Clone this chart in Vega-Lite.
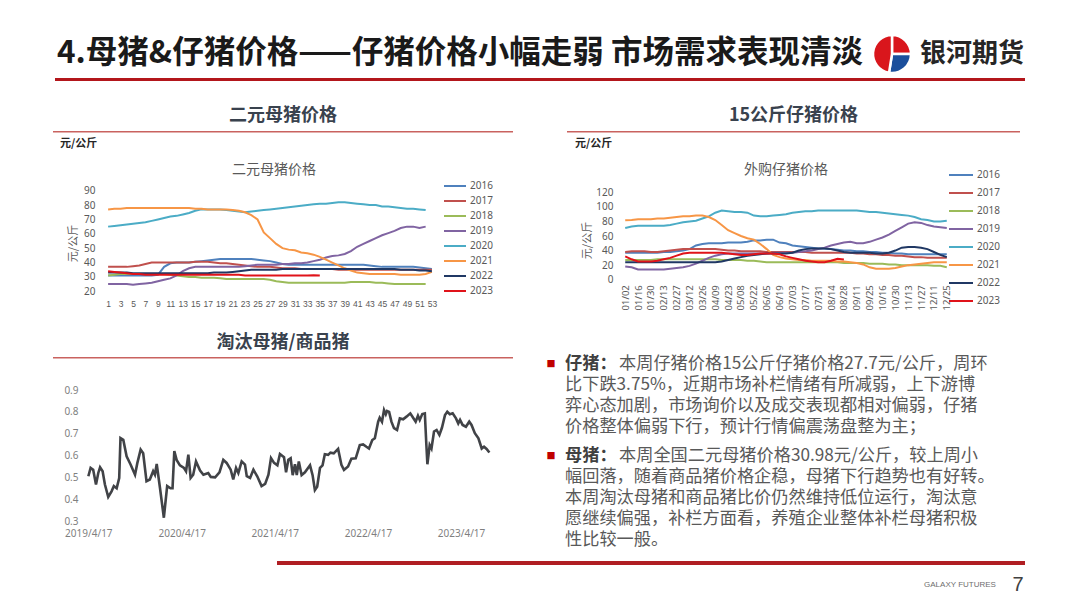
{
"$schema": "https://vega.github.io/schema/vega-lite/v6.json",
"padding": 0,
"background": "white",
"spacing": 0,
"resolve": {"scale": {"color": "independent", "strokeWidth": "independent", "x": "independent", "y": "independent"}, "legend": {"color": "independent", "strokeWidth": "independent"}},
"config": {
  "view": {"stroke": null},
  "font": "Noto Sans CJK SC",
  "concat": {"spacing": 0},
  "axis": {"domain": false, "ticks": false, "grid": false, "labelColor": "#595959", "labelFontSize": 10, "labelFont": "Noto Sans", "titleColor": "#595959", "titleFontWeight": "normal", "titleFontSize": 11, "labelOverlap": false, "labelFlush": false},
  "legend": {"labelFont": "Noto Sans", "labelColor": "#595959", "labelFontSize": 10, "padding": 0},
  "title": {"font": "Noto Sans CJK SC"}
},
"datasets": {
  "sow": [
    {"w":1,"2016":31,"2017":37,"2018":31,"2019":25,"2020":65,"2021":77,"2022":33,"2023":34},
    {"w":2,"2016":31,"2017":37,"2018":31.5,"2019":25,"2020":65.5,"2021":77.5,"2022":33,"2023":33.5},
    {"w":3,"2016":31,"2017":37,"2018":32,"2019":25,"2020":66,"2021":77.5,"2022":33,"2023":33},
    {"w":4,"2016":31,"2017":37,"2018":32,"2019":25,"2020":66.5,"2021":78,"2022":33,"2023":32.5},
    {"w":5,"2016":31,"2017":37.5,"2018":32,"2019":24.5,"2020":67,"2021":78,"2022":32.5,"2023":32},
    {"w":6,"2016":31,"2017":38,"2018":32,"2019":25,"2020":67.5,"2021":78,"2022":32.5,"2023":32},
    {"w":7,"2016":31,"2017":39,"2018":32,"2019":25.5,"2020":68,"2021":78,"2022":32.5,"2023":31.5},
    {"w":8,"2016":31,"2017":40,"2018":32,"2019":26,"2020":69,"2021":78,"2022":32.5,"2023":31.5},
    {"w":9,"2016":31.5,"2017":40,"2018":32,"2019":27,"2020":70,"2021":78,"2022":32.5,"2023":31.5},
    {"w":10,"2016":37,"2017":40,"2018":32,"2019":28,"2020":71,"2021":78,"2022":32.5,"2023":31.5},
    {"w":11,"2016":39.5,"2017":40,"2018":31.5,"2019":29,"2020":72,"2021":78,"2022":32.5,"2023":31.5},
    {"w":12,"2016":40,"2017":40,"2018":31,"2019":31,"2020":72.5,"2021":78,"2022":32.5,"2023":31.5},
    {"w":13,"2016":40,"2017":40,"2018":30.5,"2019":34,"2020":73.5,"2021":78,"2022":32.5,"2023":31.5},
    {"w":14,"2016":40,"2017":40,"2018":30,"2019":36,"2020":74.5,"2021":78,"2022":32.5,"2023":31.5},
    {"w":15,"2016":40.5,"2017":40.5,"2018":30,"2019":37,"2020":76,"2021":77.5,"2022":32.5,"2023":31.5},
    {"w":16,"2016":41,"2017":40.5,"2018":29.5,"2019":37,"2020":77,"2021":77.5,"2022":32.5,"2023":31.5},
    {"w":17,"2016":41.5,"2017":40.5,"2018":29.5,"2019":37,"2020":77,"2021":77,"2022":32.5,"2023":31.5},
    {"w":18,"2016":42,"2017":40,"2018":29.5,"2019":37,"2020":77,"2021":77,"2022":33,"2023":31.5},
    {"w":19,"2016":42.5,"2017":39.5,"2018":29,"2019":37,"2020":77,"2021":77,"2022":33,"2023":31.5},
    {"w":20,"2016":42.5,"2017":39.5,"2018":28.5,"2019":37,"2020":76.5,"2021":77,"2022":33,"2023":31.5},
    {"w":21,"2016":42.5,"2017":39,"2018":28.5,"2019":37,"2020":76,"2021":76.5,"2022":33.5,"2023":31.5},
    {"w":22,"2016":42.5,"2017":38.5,"2018":28.5,"2019":37,"2020":75.5,"2021":76,"2022":34,"2023":31.5},
    {"w":23,"2016":42.5,"2017":38,"2018":28.5,"2019":37.5,"2020":75,"2021":75,"2022":34.5,"2023":31},
    {"w":24,"2016":42.5,"2017":37.5,"2018":28.5,"2019":38,"2020":75.5,"2021":73,"2022":35,"2023":31},
    {"w":25,"2016":42,"2017":37,"2018":28.5,"2019":38.5,"2020":76,"2021":70,"2022":35,"2023":31},
    {"w":26,"2016":41.5,"2017":37,"2018":28.5,"2019":38.5,"2020":76.5,"2021":61,"2022":35,"2023":31},
    {"w":27,"2016":41,"2017":37,"2018":28,"2019":38.5,"2020":77,"2021":57,"2022":35,"2023":31},
    {"w":28,"2016":40,"2017":36.5,"2018":27,"2019":38.5,"2020":77.5,"2021":53,"2022":35,"2023":31},
    {"w":29,"2016":39,"2017":36,"2018":26.5,"2019":39,"2020":78,"2021":50,"2022":35.5,"2023":31},
    {"w":30,"2016":38.5,"2017":36,"2018":26,"2019":39,"2020":78.5,"2021":49,"2022":35.5,"2023":31},
    {"w":31,"2016":38.5,"2017":36,"2018":26,"2019":39.5,"2020":79,"2021":48.5,"2022":35.5,"2023":31},
    {"w":32,"2016":38.5,"2017":35.5,"2018":26,"2019":39.5,"2020":79.5,"2021":47,"2022":35.5,"2023":31},
    {"w":33,"2016":38.5,"2017":35.5,"2018":26,"2019":40,"2020":80,"2021":46.5,"2022":35.5,"2023":31},
    {"w":34,"2016":38.5,"2017":35.5,"2018":26,"2019":41,"2020":80.5,"2021":45.5,"2022":35.5,"2023":31.2},
    {"w":35,"2016":38.5,"2017":35.5,"2018":26,"2019":42,"2020":81,"2021":44,"2022":35.5,"2023":30.98},
    {"w":36,"2016":38.5,"2017":35.5,"2018":26,"2019":43.5,"2020":81,"2021":42,"2022":35.5},
    {"w":37,"2016":38.5,"2017":35.5,"2018":26,"2019":44.5,"2020":81.5,"2021":40,"2022":35.5},
    {"w":38,"2016":38.5,"2017":35,"2018":26,"2019":45,"2020":82,"2021":38,"2022":35.5},
    {"w":39,"2016":38.5,"2017":35,"2018":26,"2019":46,"2020":82,"2021":36,"2022":35.5},
    {"w":40,"2016":38.5,"2017":35,"2018":26.5,"2019":48,"2020":81.5,"2021":34.5,"2022":35.5},
    {"w":41,"2016":38.5,"2017":35,"2018":26.5,"2019":51,"2020":81,"2021":33,"2022":35.5},
    {"w":42,"2016":38.5,"2017":35,"2018":26.5,"2019":53,"2020":80.5,"2021":32.5,"2022":35.5},
    {"w":43,"2016":38,"2017":35,"2018":26.5,"2019":55,"2020":80,"2021":32,"2022":35.5},
    {"w":44,"2016":37.5,"2017":35,"2018":26,"2019":57,"2020":80,"2021":32,"2022":35.5},
    {"w":45,"2016":37,"2017":35,"2018":26,"2019":59,"2020":79,"2021":32,"2022":35.5},
    {"w":46,"2016":37,"2017":35,"2018":25.5,"2019":60.5,"2020":79,"2021":32,"2022":35.5},
    {"w":47,"2016":37,"2017":35,"2018":25,"2019":62,"2020":78.5,"2021":32,"2022":35.5},
    {"w":48,"2016":37,"2017":35,"2018":25,"2019":64,"2020":78,"2021":31.5,"2022":35},
    {"w":49,"2016":37,"2017":35,"2018":25,"2019":65,"2020":77.5,"2021":31.5,"2022":35},
    {"w":50,"2016":37,"2017":35,"2018":25,"2019":65,"2020":77.5,"2021":31.5,"2022":35},
    {"w":51,"2016":36.5,"2017":35,"2018":25,"2019":64,"2020":77,"2021":31.5,"2022":34.5},
    {"w":52,"2016":36,"2017":35,"2018":25,"2019":65,"2020":76.5,"2021":32,"2022":34.5},
    {"w":53,"2016":35.5,"2017":35,"2021":33.5,"2022":34}
  ],
  "piglet": [
    {"d":"01/02","2016":37,"2017":38,"2018":27,"2019":18,"2020":71,"2021":81.5,"2022":24,"2023":32},
    {"d":"01/09","2016":37,"2017":39,"2018":27,"2019":17,"2020":73,"2021":82,"2022":24,"2023":28},
    {"d":"01/16","2016":37,"2017":39,"2018":27,"2019":14,"2020":74,"2021":83,"2022":24,"2023":25},
    {"d":"01/23","2016":37,"2017":39,"2018":27,"2019":14,"2020":74,"2021":83,"2022":24,"2023":25},
    {"d":"01/30","2016":37,"2017":38,"2018":27,"2019":14,"2020":74,"2021":83,"2022":24,"2023":25},
    {"d":"02/06","2016":37,"2017":38,"2018":28,"2019":14,"2020":74,"2021":84,"2022":24,"2023":26},
    {"d":"02/13","2016":38,"2017":39,"2018":28,"2019":14,"2020":74,"2021":84,"2022":24,"2023":28},
    {"d":"02/20","2016":38,"2017":40,"2018":28,"2019":15,"2020":75,"2021":85,"2022":24,"2023":30},
    {"d":"02/27","2016":39,"2017":41,"2018":28,"2019":16,"2020":77,"2021":86,"2022":24,"2023":33},
    {"d":"03/05","2016":40,"2017":42,"2018":28,"2019":17,"2020":79,"2021":87,"2022":24,"2023":36},
    {"d":"03/12","2016":42,"2017":42,"2018":28,"2019":19,"2020":80,"2021":87,"2022":24,"2023":37},
    {"d":"03/19","2016":47,"2017":42,"2018":28,"2019":22,"2020":81,"2021":88,"2022":24,"2023":37},
    {"d":"03/26","2016":49,"2017":42,"2018":28,"2019":26,"2020":84,"2021":88,"2022":24,"2023":37},
    {"d":"04/02","2016":50,"2017":42,"2018":28,"2019":30,"2020":87,"2021":86,"2022":24,"2023":37},
    {"d":"04/09","2016":50,"2017":42,"2018":28,"2019":33,"2020":92,"2021":82,"2022":24,"2023":37},
    {"d":"04/16","2016":50,"2017":41,"2018":27,"2019":35,"2020":95,"2021":75,"2022":25,"2023":37},
    {"d":"04/23","2016":51,"2017":40,"2018":27,"2019":36,"2020":94,"2021":68,"2022":27,"2023":36},
    {"d":"04/30","2016":51,"2017":40,"2018":27,"2019":36,"2020":93,"2021":64,"2022":29,"2023":35},
    {"d":"05/08","2016":51,"2017":39,"2018":27,"2019":36,"2020":93,"2021":60,"2022":31,"2023":34},
    {"d":"05/15","2016":52,"2017":39,"2018":26,"2019":36,"2020":92,"2021":57,"2022":33,"2023":34},
    {"d":"05/22","2016":54,"2017":39,"2018":26,"2019":36,"2020":88,"2021":55,"2022":34,"2023":35},
    {"d":"05/29","2016":54,"2017":39,"2018":25,"2019":36,"2020":87,"2021":49,"2022":35,"2023":36},
    {"d":"06/05","2016":55,"2017":38,"2018":24,"2019":36,"2020":87,"2021":42,"2022":36,"2023":36},
    {"d":"06/12","2016":55,"2017":38,"2018":24,"2019":37,"2020":88,"2021":34,"2022":36,"2023":36},
    {"d":"06/19","2016":51,"2017":38,"2018":24,"2019":37,"2020":89,"2021":31,"2022":36,"2023":35},
    {"d":"06/26","2016":50,"2017":38,"2018":24,"2019":37,"2020":90,"2021":29,"2022":36,"2023":32},
    {"d":"07/03","2016":47,"2017":38,"2018":24,"2019":37,"2020":92,"2021":28,"2022":37,"2023":30},
    {"d":"07/10","2016":46,"2017":38,"2018":24,"2019":38,"2020":93,"2021":27,"2022":40,"2023":28},
    {"d":"07/17","2016":45,"2017":38,"2018":24,"2019":39,"2020":94,"2021":27,"2022":42,"2023":26},
    {"d":"07/24","2016":44,"2017":37,"2018":24,"2019":40,"2020":94,"2021":26,"2022":43,"2023":25},
    {"d":"07/31","2016":43,"2017":37,"2018":24,"2019":42,"2020":95,"2021":26,"2022":43,"2023":24},
    {"d":"08/07","2016":43,"2017":37,"2018":24,"2019":44,"2020":95,"2021":26,"2022":43,"2023":24},
    {"d":"08/14","2016":42,"2017":37,"2018":24,"2019":47,"2020":95,"2021":26,"2022":42,"2023":26},
    {"d":"08/21","2016":41,"2017":37,"2018":24,"2019":49,"2020":95,"2021":25,"2022":40,"2023":28.8},
    {"d":"08/28","2016":40,"2017":37,"2018":23,"2019":51,"2020":95,"2021":25,"2022":38,"2023":27.7},
    {"d":"09/04","2016":40,"2017":37,"2018":23,"2019":52,"2020":95,"2021":24,"2022":37},
    {"d":"09/11","2016":39,"2017":36,"2018":23,"2019":50,"2020":95,"2021":23,"2022":37},
    {"d":"09/18","2016":39,"2017":36,"2018":23,"2019":50,"2020":94,"2021":21,"2022":37},
    {"d":"09/25","2016":38,"2017":35,"2018":22,"2019":52,"2020":93,"2021":17,"2022":37},
    {"d":"10/09","2016":38,"2017":35,"2018":22,"2019":55,"2020":93,"2021":15,"2022":36},
    {"d":"10/16","2016":37,"2017":34,"2018":22,"2019":58,"2020":92,"2021":15,"2022":36},
    {"d":"10/23","2016":37,"2017":34,"2018":21,"2019":62,"2020":91,"2021":15,"2022":37},
    {"d":"10/30","2016":36,"2017":33,"2018":21,"2019":67,"2020":90,"2021":16,"2022":40},
    {"d":"11/06","2016":36,"2017":33,"2018":20,"2019":72,"2020":89,"2021":18,"2022":44},
    {"d":"11/13","2016":35,"2017":32,"2018":20,"2019":77,"2020":88,"2021":20,"2022":45},
    {"d":"11/20","2016":35,"2017":31,"2018":20,"2019":79,"2020":86,"2021":21,"2022":45},
    {"d":"11/27","2016":35,"2017":31,"2018":20,"2019":78,"2020":83,"2021":22,"2022":44},
    {"d":"12/04","2016":35,"2017":30,"2018":20,"2019":75,"2020":82,"2021":23,"2022":42},
    {"d":"12/11","2016":35,"2017":30,"2018":19,"2019":73,"2020":80,"2021":24,"2022":38},
    {"d":"12/18","2016":35,"2017":30,"2018":19,"2019":72,"2020":80,"2021":24,"2022":34},
    {"d":"12/25","2016":35,"2017":30,"2018":17,"2019":71,"2020":81,"2021":24,"2022":31}
  ],
  "ratio": [
    {"date":"2019-04-17","r":0.505},{"date":"2019-04-26","r":0.543},{"date":"2019-05-06","r":0.535},{"date":"2019-05-17","r":0.467},
    {"date":"2019-05-26","r":0.52},{"date":"2019-06-02","r":0.546},{"date":"2019-06-12","r":0.528},{"date":"2019-06-21","r":0.467},
    {"date":"2019-07-04","r":0.41},{"date":"2019-07-17","r":0.436},{"date":"2019-07-26","r":0.46},{"date":"2019-08-06","r":0.45},
    {"date":"2019-08-16","r":0.497},{"date":"2019-08-21","r":0.68},{"date":"2019-09-01","r":0.672},{"date":"2019-09-14","r":0.596},
    {"date":"2019-09-30","r":0.558},{"date":"2019-10-17","r":0.512},{"date":"2019-10-26","r":0.565},{"date":"2019-11-08","r":0.627},
    {"date":"2019-11-18","r":0.61},{"date":"2019-12-01","r":0.482},{"date":"2019-12-14","r":0.49},{"date":"2019-12-27","r":0.528},
    {"date":"2020-01-03","r":0.512},{"date":"2020-01-10","r":0.561},{"date":"2020-01-23","r":0.45},{"date":"2020-02-07","r":0.315},
    {"date":"2020-02-20","r":0.46},{"date":"2020-03-04","r":0.45},{"date":"2020-03-12","r":0.45},{"date":"2020-03-19","r":0.62},
    {"date":"2020-03-28","r":0.58},{"date":"2020-04-10","r":0.555},{"date":"2020-04-26","r":0.543},{"date":"2020-05-04","r":0.528},
    {"date":"2020-05-13","r":0.604},{"date":"2020-05-22","r":0.497},{"date":"2020-06-01","r":0.512},{"date":"2020-06-12","r":0.573},
    {"date":"2020-06-28","r":0.531},{"date":"2020-07-11","r":0.512},{"date":"2020-07-30","r":0.52},{"date":"2020-08-09","r":0.502},
    {"date":"2020-08-26","r":0.5},{"date":"2020-09-12","r":0.523},{"date":"2020-09-27","r":0.58},{"date":"2020-10-10","r":0.566},
    {"date":"2020-10-26","r":0.535},{"date":"2020-11-05","r":0.49},{"date":"2020-11-16","r":0.543},{"date":"2020-11-25","r":0.52},
    {"date":"2020-12-08","r":0.573},{"date":"2020-12-21","r":0.558},{"date":"2020-12-28","r":0.505},{"date":"2021-01-10","r":0.497},
    {"date":"2021-01-23","r":0.535},{"date":"2021-02-07","r":0.505},{"date":"2021-02-24","r":0.46},{"date":"2021-03-10","r":0.47},
    {"date":"2021-03-23","r":0.512},{"date":"2021-04-02","r":0.588},{"date":"2021-04-14","r":0.566},{"date":"2021-04-27","r":0.555},
    {"date":"2021-05-07","r":0.607},{"date":"2021-05-23","r":0.592},{"date":"2021-05-31","r":0.523},{"date":"2021-06-09","r":0.58},
    {"date":"2021-06-18","r":0.587},{"date":"2021-06-26","r":0.51},{"date":"2021-07-05","r":0.56},{"date":"2021-07-12","r":0.51},
    {"date":"2021-07-20","r":0.573},{"date":"2021-07-31","r":0.51},{"date":"2021-08-13","r":0.523},{"date":"2021-09-02","r":0.555},
    {"date":"2021-09-12","r":0.51},{"date":"2021-09-21","r":0.442},{"date":"2021-09-30","r":0.457},{"date":"2021-10-11","r":0.543},
    {"date":"2021-10-21","r":0.555},{"date":"2021-10-30","r":0.606},{"date":"2021-11-12","r":0.603},{"date":"2021-11-21","r":0.613},
    {"date":"2021-12-04","r":0.61},{"date":"2021-12-21","r":0.63},{"date":"2022-01-03","r":0.557},{"date":"2022-01-13","r":0.534},
    {"date":"2022-01-29","r":0.55},{"date":"2022-02-11","r":0.585},{"date":"2022-02-28","r":0.587},{"date":"2022-03-16","r":0.648},
    {"date":"2022-03-29","r":0.651},{"date":"2022-04-11","r":0.64},{"date":"2022-04-21","r":0.632},{"date":"2022-05-04","r":0.671},
    {"date":"2022-05-14","r":0.679},{"date":"2022-05-27","r":0.755},{"date":"2022-06-02","r":0.773},{"date":"2022-06-11","r":0.755},
    {"date":"2022-06-19","r":0.808},{"date":"2022-06-26","r":0.789},{"date":"2022-07-01","r":0.804},{"date":"2022-07-09","r":0.8},
    {"date":"2022-07-18","r":0.755},{"date":"2022-07-28","r":0.725},{"date":"2022-08-09","r":0.717},{"date":"2022-08-20","r":0.77},
    {"date":"2022-09-02","r":0.766},{"date":"2022-09-15","r":0.778},{"date":"2022-09-30","r":0.793},{"date":"2022-10-11","r":0.773},
    {"date":"2022-10-21","r":0.755},{"date":"2022-10-30","r":0.782},{"date":"2022-11-06","r":0.763},{"date":"2022-11-16","r":0.79},
    {"date":"2022-11-26","r":0.793},{"date":"2022-12-02","r":0.648},{"date":"2022-12-06","r":0.56},{"date":"2022-12-15","r":0.648},
    {"date":"2022-12-22","r":0.632},{"date":"2023-01-01","r":0.71},{"date":"2023-01-11","r":0.717},{"date":"2023-01-22","r":0.694},
    {"date":"2023-02-01","r":0.727},{"date":"2023-02-13","r":0.785},{"date":"2023-02-22","r":0.8},{"date":"2023-03-04","r":0.789},
    {"date":"2023-03-15","r":0.793},{"date":"2023-03-28","r":0.77},{"date":"2023-04-06","r":0.747},{"date":"2023-04-13","r":0.763},
    {"date":"2023-04-23","r":0.74},{"date":"2023-05-06","r":0.732},{"date":"2023-05-19","r":0.755},{"date":"2023-05-28","r":0.74},
    {"date":"2023-06-10","r":0.702},{"date":"2023-06-24","r":0.679},{"date":"2023-07-07","r":0.632},{"date":"2023-07-16","r":0.64},
    {"date":"2023-07-26","r":0.63},{"date":"2023-08-06","r":0.614}
  ],
  "notes": [
    {"para":1,"line":1,"lead":"仔猪：","body":"本周仔猪价格15公斤仔猪价格27.7元/公斤，周环"},
    {"para":1,"line":2,"lead":"","body":"比下跌3.75%，近期市场补栏情绪有所减弱，上下游博"},
    {"para":1,"line":3,"lead":"","body":"弈心态加剧，市场询价以及成交表现都相对偏弱，仔猪"},
    {"para":1,"line":4,"lead":"","body":"价格整体偏弱下行，预计行情偏震荡盘整为主；"},
    {"para":2,"line":5,"lead":"母猪：","body":"本周全国二元母猪价格30.98元/公斤，较上周小"},
    {"para":2,"line":6,"lead":"","body":"幅回落，随着商品猪价格企稳，母猪下行趋势也有好转。"},
    {"para":2,"line":7,"lead":"","body":"本周淘汰母猪和商品猪比价仍然维持低位运行，淘汰意"},
    {"para":2,"line":8,"lead":"","body":"愿继续偏强，补栏方面看，养殖企业整体补栏母猪积极"},
    {"para":2,"line":9,"lead":"","body":"性比较一般。"}
  ]
},
"vconcat": [
  {"width": 1080, "height": 30, "data": {"values": []}, "mark": "point"},
  {"hconcat": [
    {"width": 57, "height": 40, "data": {"values": []}, "mark": "point"},
    {"width": 815, "height": 40, "data": {"values": [{"t": "4.母猪&仔猪价格——仔猪价格小幅走弱 市场需求表现清淡"}]},
     "mark": {"type": "text", "align": "left", "fontSize": 31.5, "fontWeight": "bold", "color": "#1A1A1A"},
     "encoding": {"text": {"field": "t"}, "x": {"datum": 0, "type": "quantitative", "axis": null, "scale": {"domain": [0, 1]}}}},
    {"width": 40, "height": 40, "data": {"values": [{"seg": 1, "part": "red", "share": 1}, {"seg": 2, "part": "blue", "share": 1.1}, {"seg": 3, "part": "red", "share": 1.9}]},
     "mark": {"type": "arc", "outerRadius": 19, "stroke": "white", "strokeWidth": 2.5},
     "encoding": {"theta": {"field": "share", "type": "quantitative"},
                  "order": {"field": "seg", "type": "quantitative"},
                  "color": {"condition": {"test": "datum.part == 'blue'", "value": "#1B4F9C"}, "value": "#D9161C"}}},
    {"width": 6, "height": 40, "data": {"values": []}, "mark": "point"},
    {"width": 108, "height": 40, "data": {"values": [{"name": "银河期货"}]},
     "mark": {"type": "text", "fontSize": 26, "fontWeight": "bold", "color": "#262626"},
     "encoding": {"text": {"field": "name"}}}
  ], "spacing": 0, "bounds": "flush"},
  {"hconcat": [
    {"width": 55, "height": 3, "data": {"values": []}, "mark": "point"},
    {"width": 970, "height": 3, "data": {"values": []}, "mark": "point", "view": {"fill": "#B3161B", "stroke": null}}
  ], "spacing": 0, "bounds": "flush"},
  {"width": 1, "height": 25, "data": {"values": []}, "mark": "point"},
  {"hconcat": [
    {"width": 53, "height": 1, "data": {"values": []}, "mark": "point"},
    {"vconcat": [
      {"width": 460, "height": 20, "data": {"values": [{"t": "二元母猪价格"}]},
       "mark": {"type": "text", "fontSize": 18, "fontWeight": "bold", "color": "#39424E"}, "encoding": {"text": {"field": "t"}}},
      {"width": 1, "height": 4.5, "data": {"values": []}, "mark": "point"},
      {"width": 460, "height": 1.5, "data": {"values": []}, "mark": "point", "view": {"fill": "#C9625F", "stroke": null}},
      {"width": 1, "height": 3, "data": {"values": []}, "mark": "point"},
      {"hconcat": [
        {"width": 7, "height": 16, "data": {"values": []}, "mark": "point"},
        {"width": 60, "height": 16, "data": {"values": [{"t": "元/公斤"}]},
         "mark": {"type": "text", "align": "left", "fontSize": 11, "fontWeight": "bold", "color": "#262626"},
         "encoding": {"text": {"field": "t"}, "x": {"datum": 0, "type": "quantitative", "axis": null, "scale": {"domain": [0, 1]}}}}
      ], "spacing": 0, "bounds": "flush"},
      {"width": 1, "height": 9, "data": {"values": []}, "mark": "point"},
      {"hconcat": [
        {"width": 52, "height": 172, "data": {"values": []}, "mark": "point"},
        {"width": 330, "height": 130.3, "data": {"name": "sow"},
         "transform": [{"fold": ["2016", "2017", "2018", "2019", "2020", "2021", "2022", "2023"], "as": ["year", "price"]}],
         "title": {"text": "二元母猪价格", "anchor": "middle", "fontSize": 14, "fontWeight": "normal", "color": "#595959", "offset": -16, "dx": 4},
         "mark": {"type": "line"},
         "encoding": {
           "x": {"field": "w", "type": "quantitative", "scale": {"domain": [0.5, 53.5], "nice": false, "zero": false},
                 "axis": {"values": [1,3,5,7,9,11,13,15,17,19,21,23,25,27,29,31,33,35,37,39,41,43,45,47,49,51,53], "title": null, "labelPadding": 8, "labelFont": "Liberation Sans", "labelFontSize": 8.5}},
           "y": {"field": "price", "type": "quantitative", "scale": {"domain": [20, 110.67], "nice": false, "zero": false},
                 "axis": {"values": [20,30,40,50,60,70,80,90], "title": "元/公斤", "labelPadding": 10, "titlePadding": 5, "titleY": 82}},
           "color": {"field": "year", "type": "nominal",
                     "scale": {"domain": ["2016","2017","2018","2019","2020","2021","2022","2023"], "range": ["#4F81BD","#C0504D","#9BBB59","#8064A2","#4BACC6","#F79646","#203864","#E0131A"]},
                     "legend": {"orient": "none", "legendX": 338, "legendY": 17.5, "title": null, "symbolType": "stroke", "symbolSize": 484, "symbolStrokeWidth": 3, "clipHeight": 15, "rowPadding": 0, "labelOffset": 3}},
           "strokeWidth": {"field": "year", "type": "nominal", "scale": {"domain": ["2016","2017","2018","2019","2020","2021","2022","2023"], "range": [2,2,2,2,2,2,2,3]}, "legend": null}
         }}
      ], "spacing": 0, "bounds": "flush", "resolve": {"scale": {"color": "independent", "strokeWidth": "independent", "x": "independent", "y": "independent"}, "legend": {"color": "independent", "strokeWidth": "independent"}}},
      {"width": 460, "height": 20, "data": {"values": [{"t": "淘汰母猪/商品猪"}]},
       "mark": {"type": "text", "fontSize": 18, "fontWeight": "bold", "color": "#39424E"}, "encoding": {"text": {"field": "t"}}},
      {"width": 1, "height": 3.5, "data": {"values": []}, "mark": "point"},
      {"width": 460, "height": 1.5, "data": {"values": []}, "mark": "point", "view": {"fill": "#C9625F", "stroke": null}},
      {"hconcat": [
        {"width": 31, "height": 190, "data": {"values": []}, "mark": "point"},
        {"width": 411, "height": 162, "data": {"name": "ratio"},
         "mark": {"type": "line", "color": "#414347", "strokeWidth": 2.6},
         "encoding": {
           "x": {"field": "date", "type": "temporal",
                 "scale": {"domain": [{"year": 2019, "month": 3, "date": 31}, {"year": 2023, "month": 8, "date": 28}]},
                 "axis": {"values": [{"year": 2019, "month": 4, "date": 17}, {"year": 2020, "month": 4, "date": 17}, {"year": 2021, "month": 4, "date": 17}, {"year": 2022, "month": 4, "date": 17}, {"year": 2023, "month": 4, "date": 17}],
                          "format": "%Y/%-m/%-d", "title": null, "labelPadding": 7, "labelColor": "#7F7F7F"}},
           "y": {"field": "r", "type": "quantitative", "scale": {"domain": [0.3, 1.042], "nice": false, "zero": false},
                 "axis": {"values": [0.3,0.4,0.5,0.6,0.7,0.8,0.9], "format": ".1f", "title": null, "labelPadding": 6, "labelColor": "#7F7F7F"}}
         }}
      ], "spacing": 0, "bounds": "flush"}
    ], "spacing": 0, "resolve": {"scale": {"color": "independent", "strokeWidth": "independent", "x": "independent", "y": "independent"}, "legend": {"color": "independent", "strokeWidth": "independent"}}},
    {"width": 33, "height": 1, "data": {"values": []}, "mark": "point"},
    {"vconcat": [
      {"hconcat": [
        {"width": 21, "height": 20, "data": {"values": []}, "mark": "point"},
        {"width": 453, "height": 20, "data": {"values": [{"t": "15公斤仔猪价格"}]},
         "mark": {"type": "text", "fontSize": 18, "fontWeight": "bold", "color": "#39424E"}, "encoding": {"text": {"field": "t"}}}
      ], "spacing": 0, "bounds": "flush"},
      {"width": 1, "height": 4.5, "data": {"values": []}, "mark": "point"},
      {"hconcat": [
        {"width": 21, "height": 1.5, "data": {"values": []}, "mark": "point"},
        {"width": 453, "height": 1.5, "data": {"values": []}, "mark": "point", "view": {"fill": "#C9625F", "stroke": null}}
      ], "spacing": 0, "bounds": "flush"},
      {"width": 1, "height": 3, "data": {"values": []}, "mark": "point"},
      {"hconcat": [
        {"width": 29, "height": 16, "data": {"values": []}, "mark": "point"},
        {"width": 60, "height": 16, "data": {"values": [{"t": "元/公斤"}]},
         "mark": {"type": "text", "align": "left", "fontSize": 11, "fontWeight": "bold", "color": "#262626"},
         "encoding": {"text": {"field": "t"}, "x": {"datum": 0, "type": "quantitative", "axis": null, "scale": {"domain": [0, 1]}}}}
      ], "spacing": 0, "bounds": "flush"},
      {"width": 1, "height": 9, "data": {"values": []}, "mark": "point"},
      {"hconcat": [
        {"width": 76, "height": 191.5, "data": {"values": []}, "mark": "point"},
        {"width": 328, "height": 118.7, "data": {"name": "piglet"},
         "transform": [{"fold": ["2016", "2017", "2018", "2019", "2020", "2021", "2022", "2023"], "as": ["year", "price"]}],
         "title": {"text": "外购仔猪价格", "anchor": "middle", "fontSize": 14, "fontWeight": "normal", "color": "#595959", "offset": -16},
         "mark": {"type": "line"},
         "encoding": {
           "x": {"field": "d", "type": "ordinal",
                 "scale": {"type": "point", "padding": 0.5, "domain": ["01/02","01/09","01/16","01/23","01/30","02/06","02/13","02/20","02/27","03/05","03/12","03/19","03/26","04/02","04/09","04/16","04/23","04/30","05/08","05/15","05/22","05/29","06/05","06/12","06/19","06/26","07/03","07/10","07/17","07/24","07/31","08/07","08/14","08/21","08/28","09/04","09/11","09/18","09/25","10/09","10/16","10/23","10/30","11/06","11/13","11/20","11/27","12/04","12/11","12/18","12/25"]},
                 "axis": {"values": ["01/02","01/16","01/30","02/13","02/27","03/12","03/26","04/09","04/23","05/08","05/22","06/05","06/19","07/03","07/17","07/31","08/14","08/28","09/11","09/25","10/16","10/30","11/13","11/27","12/11","12/25"], "labelAngle": -90, "labelPadding": 5, "title": null, "labelFontSize": 9.5}},
           "y": {"field": "price", "type": "quantitative", "scale": {"domain": [0, 163], "nice": false},
                 "axis": {"values": [0,20,40,60,80,100,120], "title": "元/公斤", "labelPadding": 9, "titlePadding": 3, "titleY": 79}},
           "color": {"field": "year", "type": "nominal",
                     "scale": {"domain": ["2016","2017","2018","2019","2020","2021","2022","2023"], "range": ["#4F81BD","#C0504D","#9BBB59","#8064A2","#4BACC6","#F79646","#203864","#E0131A"]},
                     "legend": {"orient": "none", "legendX": 326, "legendY": 6, "title": null, "symbolType": "stroke", "symbolSize": 576, "symbolStrokeWidth": 3, "clipHeight": 16, "rowPadding": 2, "labelOffset": 3}},
           "strokeWidth": {"field": "year", "type": "nominal", "scale": {"domain": ["2016","2017","2018","2019","2020","2021","2022","2023"], "range": [2,2,2,2,2,2,2,3]}, "legend": null}
         }}
      ], "spacing": 0, "bounds": "flush", "resolve": {"scale": {"color": "independent", "strokeWidth": "independent", "x": "independent", "y": "independent"}, "legend": {"color": "independent", "strokeWidth": "independent"}}},
      {"width": 490, "height": 84, "data": {"name": "notes"},
       "transform": [{"filter": "datum.para == 1"}],
       "encoding": {
         "y": {"field": "line", "type": "ordinal", "axis": null, "scale": {"type": "point", "padding": 0.5}},
         "x": {"datum": 0, "type": "quantitative", "axis": null, "scale": {"domain": [0, 1]}}
       },
       "layer": [
         {"transform": [{"filter": "datum.lead != ''"}], "mark": {"type": "text", "text": "■", "align": "center", "dx": 5, "fontSize": 9, "color": "#C00000"}},
         {"transform": [{"filter": "datum.lead != ''"}], "mark": {"type": "text", "align": "left", "dx": 19, "fontSize": 17.2, "fontWeight": "bold", "color": "#404040"}, "encoding": {"text": {"field": "lead"}}},
         {"transform": [{"filter": "datum.lead != ''"}], "mark": {"type": "text", "align": "left", "dx": 73, "fontSize": 17.2, "color": "#595959"}, "encoding": {"text": {"field": "body"}}},
         {"transform": [{"filter": "datum.lead == ''"}], "mark": {"type": "text", "align": "left", "dx": 19, "fontSize": 17.2, "color": "#595959"}, "encoding": {"text": {"field": "body"}}}
       ]},
      {"width": 1, "height": 8, "data": {"values": []}, "mark": "point"},
      {"width": 490, "height": 105, "data": {"name": "notes"},
       "transform": [{"filter": "datum.para == 2"}],
       "encoding": {
         "y": {"field": "line", "type": "ordinal", "axis": null, "scale": {"type": "point", "padding": 0.5}},
         "x": {"datum": 0, "type": "quantitative", "axis": null, "scale": {"domain": [0, 1]}}
       },
       "layer": [
         {"transform": [{"filter": "datum.lead != ''"}], "mark": {"type": "text", "text": "■", "align": "center", "dx": 5, "fontSize": 9, "color": "#C00000"}},
         {"transform": [{"filter": "datum.lead != ''"}], "mark": {"type": "text", "align": "left", "dx": 19, "fontSize": 17.2, "fontWeight": "bold", "color": "#404040"}, "encoding": {"text": {"field": "lead"}}},
         {"transform": [{"filter": "datum.lead != ''"}], "mark": {"type": "text", "align": "left", "dx": 73, "fontSize": 17.2, "color": "#595959"}, "encoding": {"text": {"field": "body"}}},
         {"transform": [{"filter": "datum.lead == ''"}], "mark": {"type": "text", "align": "left", "dx": 19, "fontSize": 17.2, "color": "#595959"}, "encoding": {"text": {"field": "body"}}}
       ]}
    ], "spacing": 0, "resolve": {"scale": {"color": "independent", "strokeWidth": "independent", "x": "independent", "y": "independent"}, "legend": {"color": "independent", "strokeWidth": "independent"}}}
  ], "spacing": 0, "resolve": {"scale": {"color": "independent", "strokeWidth": "independent", "x": "independent", "y": "independent"}, "legend": {"color": "independent", "strokeWidth": "independent"}}},
  {"width": 1, "height": 10.5, "data": {"values": []}, "mark": "point"},
  {"hconcat": [
    {"width": 277, "height": 4, "data": {"values": []}, "mark": "point"},
    {"width": 748, "height": 4, "data": {"values": []}, "mark": "point", "view": {"fill": "#B01E23", "stroke": null}}
  ], "spacing": 0, "bounds": "flush"},
  {"width": 1, "height": 10, "data": {"values": []}, "mark": "point"},
  {"hconcat": [
    {"width": 910, "height": 20, "data": {"values": []}, "mark": "point"},
    {"width": 100, "height": 20, "data": {"values": [{"t": "GALAXY FUTURES"}]},
     "mark": {"type": "text", "fontSize": 8, "color": "#6E6E6E", "font": "Liberation Sans"}, "encoding": {"text": {"field": "t"}}},
    {"width": 16, "height": 20, "data": {"values": [{"p": "7"}]},
     "mark": {"type": "text", "fontSize": 20, "color": "#404040", "font": "Liberation Sans"}, "encoding": {"text": {"field": "p"}}}
  ], "spacing": 0, "bounds": "flush"}
]
}
